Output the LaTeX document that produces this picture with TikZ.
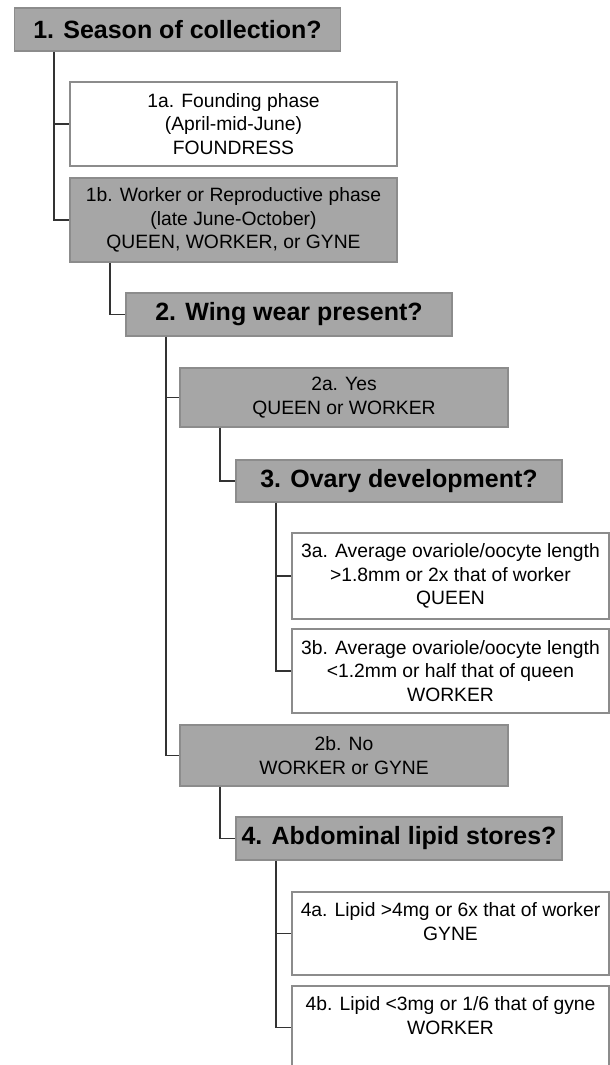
\documentclass[tikz,border=0pt]{standalone}
\usepackage{fontspec}
\setmainfont{Liberation Sans}
\definecolor{boxgray}{HTML}{A6A6A6}
\definecolor{edgegray}{HTML}{8C8C8C}
\definecolor{linegray}{HTML}{333333}
\tikzset{
  base/.style={draw=edgegray, line width=1.2pt, rectangle, align=center, inner sep=2pt},
  question/.style={base, fill=boxgray, minimum width=326pt, minimum height=43pt,
    font=\fontsize{25}{30}\selectfont\bfseries},
  graybox/.style={base, fill=boxgray, font=\fontsize{19.3}{23.5}\selectfont},
  whitebox/.style={base, fill=white, font=\fontsize{19.3}{23.5}\selectfont},
  conn/.style={draw=linegray, line width=1.8pt}
}
\begin{document}
\begin{tikzpicture}[x=1pt,y=-1pt]
\useasboundingbox (0,0) rectangle (610,1065);
\clip (0,0) rectangle (610,1065);
\fill[white] (0,0) rectangle (610,1065);

% nodes
\node[question] (q1) at (177.5,29.5) {1. Season of collection?};
\node[whitebox, minimum width=327pt, minimum height=84pt] (a1) at (233.5,124)
  {1a. Founding phase\\(April-mid-June)\\FOUNDRESS};
\node[graybox, minimum width=327pt, minimum height=84pt] (b1) at (233.5,220)
  {1b. Worker or Reproductive phase\\(late June-October)\\QUEEN, WORKER, or GYNE};
\node[question] (q2) at (289,314.5) {2. Wing wear present?};
\node[graybox, minimum width=328pt, minimum height=59pt] (a2) at (344,397.5)
  {2a. Yes\\QUEEN or WORKER};
\node[question, minimum height=42pt] (q3) at (399,481) {3. Ovary development?};
\node[whitebox, minimum width=317pt, minimum height=86pt] (a3) at (450.5,576)
  {3a. Average ovariole/oocyte length\\>1.8mm or 2x that of worker\\QUEEN};
\node[whitebox, minimum width=317pt, minimum height=84pt] (b3) at (450.5,671)
  {3b. Average ovariole/oocyte length\\<1.2mm or half that of queen\\WORKER};
\node[graybox, minimum width=328pt, minimum height=61pt] (b2) at (344,755.5)
  {2b. No\\WORKER or GYNE};
\node[question] (q4) at (399,838.5) {4. Abdominal lipid stores?};
\node[whitebox, minimum width=317pt, minimum height=83pt] (a4) at (450.5,933.5)
  {4a. Lipid >4mg or 6x that of worker\\GYNE\\\phantom{GYNE}};
\node[whitebox, minimum width=317pt, minimum height=83pt] (b4) at (450.5,1027.5)
  {4b. Lipid <3mg or 1/6 that of gyne\\WORKER\\\phantom{WORKER}};

% connectors
\coordinate (c1) at (54,0);
\draw[conn] (q1.south -| c1) |- (b1.west);
\draw[conn] (c1 |- a1.west) -- (a1.west);
\coordinate (c2) at (110,0);
\draw[conn] (b1.south -| c2) |- (q2.west);
\coordinate (c3) at (166,0);
\draw[conn] (q2.south -| c3) |- (b2.west);
\draw[conn] (c3 |- a2.west) -- (a2.west);
\coordinate (c4) at (220,0);
\draw[conn] (a2.south -| c4) |- (q3.west);
\coordinate (c5) at (276,0);
\draw[conn] (q3.south -| c5) |- (b3.west);
\draw[conn] (c5 |- a3.west) -- (a3.west);
\draw[conn] (b2.south -| c4) |- (q4.west);
\draw[conn] (q4.south -| c5) |- (b4.west);
\draw[conn] (c5 |- a4.west) -- (a4.west);
\end{tikzpicture}
\end{document}
